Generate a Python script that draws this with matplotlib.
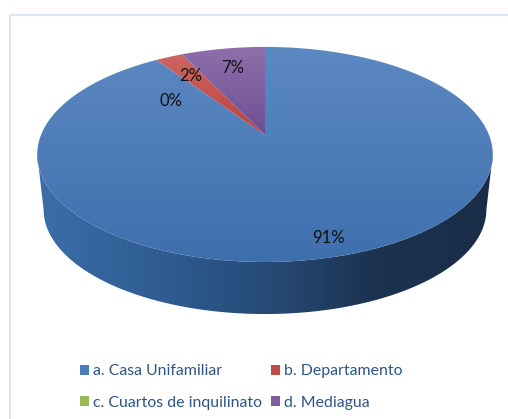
import matplotlib
matplotlib.use('Agg')
import matplotlib.pyplot as plt
import numpy as np
from matplotlib.patches import Patch, Polygon
from matplotlib.colors import LinearSegmentedColormap

# data
categories = ['a. Casa Unifamiliar', 'b. Departamento', 'c. Cuartos de inquilinato', 'd. Mediagua']
values = [90.6, 2.3, 0, 7.1]
pct_labels = ['91%', '2%', '0%', '7%']
label_x = [328, 191, 171, 233]
label_y = [238, 76, 101, 68]

# top colour, bottom colour of each slice
top_cols = [('#5d89c2', '#3e6fad'), ('#cd6662', '#b9423f'), ('#a6c65f', '#8fb04a'), ('#8d70ab', '#6e4e93')]
legend_cols = ['#4a7ebb', '#be4b48', '#98b954', '#7d5fa0']

plt.rcParams['font.family'] = ['Lato', 'DejaVu Sans']

W, H = 508, 419
fig = plt.figure(figsize=(W / 100, H / 100), dpi=100)
ax = fig.add_axes([0, 0, 1, 1])
ax.set_xlim(0, W)
ax.set_ylim(H, 0)
ax.axis('off')

# chart frame
ax.plot([10, 10, 508], [419, 15.5, 15.5], color='#dce6f4', lw=1.6, clip_on=False)

# pie seen in perspective: circle -> projected ellipse
cx, cy = 265, 135
k = 0.181
a, b = 104, 224
depth = 55.6
shrink = 0.972


def project(theta):
    # theta clockwise from the top
    x = np.sin(theta)
    y = np.cos(theta)
    d = 1 + k * y
    return cx + b * x / d, cy - a * y / d


def grad_fill(poly_xy, colors, horizontal=False):
    cmap = LinearSegmentedColormap.from_list('g', colors)
    xs, ys = poly_xy[:, 0], poly_xy[:, 1]
    if horizontal:
        img = np.linspace(0, 1, 256).reshape(1, -1)
    else:
        img = np.linspace(0, 1, 256).reshape(-1, 1)
    # extent hugs the polygon so the gradient runs over its own height / width
    ext = (xs.min() - 1, xs.max() + 1, ys.max() + 1, ys.min() - 1)
    im = ax.imshow(img, cmap=cmap, extent=ext, aspect='auto', interpolation='bilinear', zorder=2)
    p = Polygon(poly_xy, closed=True, transform=ax.transData, facecolor='none', edgecolor='none')
    ax.add_patch(p)
    im.set_clip_path(p)


# side wall between the top rim and a slightly smaller bottom rim
t_all = np.linspace(0, 2 * np.pi, 721)
px, py = project(t_all)
iL, iR = np.argmin(px), np.argmax(px)
ts = t_all[iR:iL + 1]
sx, sy = project(ts)
bx = cx + (sx - cx) * shrink
by = cy + (sy - cy) * shrink + depth
side = np.vstack([np.c_[sx, sy], np.c_[bx[::-1], by[::-1]]])
side_cols = [(0.0, '#3c6ea8'), (0.25, '#305e94'), (0.5, '#274b77'), (0.75, '#1b3250'), (1.0, '#1a2d48')]
grad_fill(side, side_cols, horizontal=True)

# top face, clockwise from 12 o'clock
start = 0.0
total = sum(values)
for i in range(len(values)):
    sweep = 2 * np.pi * values[i] / total
    if sweep == 0:
        continue
    th = np.linspace(start, start + sweep, max(int(values[i] * 8), 10))
    wx, wy = project(th)
    poly = np.vstack([[cx, cy], np.c_[wx, wy]])
    grad_fill(poly, top_cols[i])
    start += sweep

# percent labels
for s, x, y in zip(pct_labels, label_x, label_y):
    ax.text(x, y, s, ha='center', va='center', fontsize=12, color='#111111', zorder=5)

# legend
handles = [Patch(facecolor=c, edgecolor='none') for c in legend_cols]
leg = ax.legend([handles[0], handles[2], handles[1], handles[3]],
                [categories[0], categories[2], categories[1], categories[3]],
                ncols=2, loc='upper left', bbox_to_anchor=(68 / W, 1 - 352.5 / H), frameon=False,
                fontsize=11.4, labelcolor='#2f5488', handlelength=0.57, handleheight=0.57,
                handletextpad=0.25, columnspacing=0.57, labelspacing=1.1, borderpad=0.25)

fig.savefig('out.png', dpi=100)
